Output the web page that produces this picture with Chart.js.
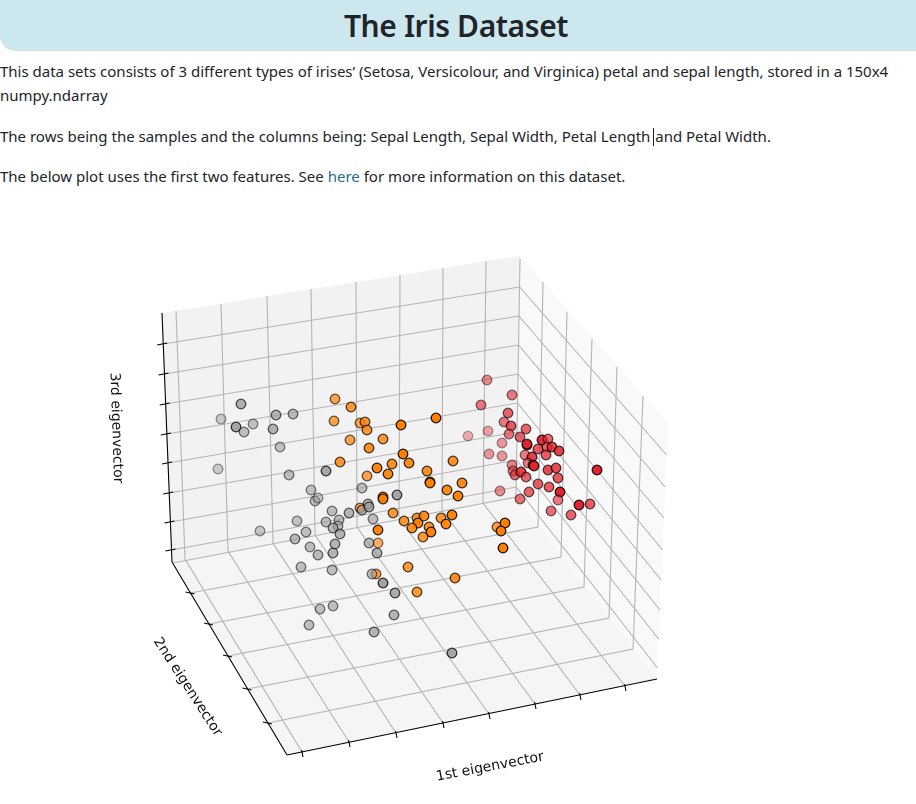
<!DOCTYPE html>
<html>
<head>
<meta charset="utf-8">
<title>The Iris Dataset</title>
<script src="https://cdn.jsdelivr.net/npm/chart.js@4/dist/chart.umd.min.js"></script>
<style>
  html, body { margin: 0; padding: 0; overflow: hidden; background: #fff; }
  body { width: 916px; height: 804px; position: relative; font-family: "Noto Sans", sans-serif; color: #212529; }
  .banner { height: 51px; padding-right: 4px; background: #cde7ee; border-bottom-left-radius: 15px; text-align: center;
    font-size: 30px; font-weight: 600; letter-spacing: -0.4px; line-height: 51px; }
  p { position: absolute; left: 0; margin: 0; font-size: 15px; line-height: 24px; white-space: nowrap; }
  a { color: #2a6a8f; text-decoration: none; }
  .caret { display: inline-block; width: 0; height: 18px; border-left: 1px solid #222; vertical-align: -4px; margin-left: -1px; margin-right: 1px; }
  #chart { position: absolute; left: 0; top: 200px; }
</style>
</head>
<body>
<div class="banner">The Iris Dataset</div>
<p style="top:59px">This data sets consists of 3 different types of irises’ (Setosa, Versicolour, and Virginica) petal and sepal length, stored in a 150x4<br>numpy.ndarray</p>
<p style="top:124px">The rows being the samples and the columns being: Sepal Length, Sepal Width, Petal Length <span class="caret"></span>and Petal Width.</p>
<p style="top:164px">The below plot uses the first two features. See <a href="#">here</a> for more information on this dataset.</p>
<canvas id="chart" width="916" height="604"></canvas>
<script>
const setosa = [
  [487,380,.5],[512,395,.6],[481,405,.6],[508,413,.7],[504,422,.6],[511,426,.75],[468,436,.35],[488,431,.4],
  [509,434,.6],[526,429,.7],[520,437,.7],[502,443,.45],[527,445,.95],[527,444,.8],[542,440,.95],[548,439,.7],
  [538,449,.75],[547,447,.7],[552,447,.85],[559,451,.85],[546,455,.75],[489,454,.45],[502,456,.45],[525,455,.6],
  [532,457,.85],[528,463,.6],[533,465,.9],[534,466,.9],[512,465,.55],[513,471,.6],[515,475,.65],[521,472,.85],
  [526,477,.7],[548,470,.8],[556,468,.8],[558,478,.75],[597,470,1],[538,484,.7],[549,487,.75],[529,492,.7],
  [500,491,.5],[520,499,.65],[560,492,1],[558,500,.6],[579,505,1],[590,504,.75],[551,511,.65],[571,515,.7]
];
const versicolor = [
  [335,399,.7],[351,407,.8],[334,421,.7],[360,423,.7],[365,422,.8],[367,430,.8],[401,425,1],[350,440,.7],
  [383,439,.8],[369,448,.85],[403,454,1],[340,462,.8],[392,464,.85],[409,463,.9],[377,468,.95],[388,474,.9],
  [367,476,.7],[383,497,.95],[383,499,.9],[360,508,.7],[393,513,.8],[417,518,.8],[404,521,.8],[418,523,.9],
  [412,528,.85],[378,530,.95],[424,516,.85],[429,527,.85],[431,532,.95],[423,537,.8],[441,518,.8],[452,515,.95],
  [446,524,.9],[378,543,.6],[408,567,.8],[455,578,.85],[376,574,.7],[417,592,.8],[436,418,1],[453,461,.85],
  [427,471,.85],[430,482,1],[430,483,.9],[462,483,.9],[447,490,.9],[458,496,.95],[497,527,.75],[505,523,1],
  [501,531,1],[503,548,1]
];
const virginica = [
  [241,404,.75],[221,419,.45],[236,427,.85],[244,432,.6],[253,424,.55],[276,415,.7],[293,414,.65],[273,429,.7],
  [280,447,.55],[218,469,.45],[289,475,.6],[326,471,.85],[311,490,.55],[315,501,.6],[318,498,.5],[362,488,.6],
  [397,495,.85],[332,511,.6],[349,513,.7],[362,510,.7],[368,504,.7],[369,507,.75],[373,519,.6],[297,521,.55],
  [326,522,.6],[339,520,.6],[338,526,.6],[333,528,.65],[340,534,.7],[260,531,.5],[306,532,.6],[295,539,.65],
  [310,547,.6],[318,555,.65],[335,544,.7],[333,553,.7],[369,543,.65],[377,553,.7],[301,567,.6],[332,570,.6],
  [372,574,.6],[383,583,.9],[395,593,.8],[394,615,.7],[320,609,.6],[333,606,.6],[309,625,.6],[374,632,.7],
  [452,653,.85]
];

// the three panes and the grid, as projected outlines
const paneLeft = [[162,313],[520,256],[516,497],[172,562]];
const paneRight = [[520,256],[668,423],[657,679],[516,497]];
const paneFloor = [[172,562],[516,497],[657,679],[287,755]];

const thirdGrid = [
  [[163.2,344],[519.5,287],[666.6,455]], [[164.5,374],[519,316],[665.2,487]],
  [[165.7,404],[518.5,345],[663.9,518]], [[166.9,434],[518,374],[662.5,550]],
  [[168,463],[517.5,403],[661.2,580]], [[169.2,493],[517,432],[660,610]],
  [[170.4,522],[516.6,460],[658.7,639]], [[171.5,550],[516.2,487],[657.5,668]]
];
const firstGrid = [
  [[176,311],[185,559],[302,752]], [[221,304],[228,551],[349,742]],
  [[267,296],[273,543],[396,733]], [[311,289],[315,535],[443,723]],
  [[356,282],[357,527],[489,714]], [[400,275],[399,518],[535,704]],
  [[443,268],[442,510],[580,695]], [[486,261],[483,503],[625,686]]
];
const secondGrid = [
  [[520,259],[516,497],[173,563]], [[543,282],[538,527],[190.5,593]],
  [[567,312],[561,557],[209,624]], [[592,339],[584,587],[228,656]],
  [[617,367],[609,618],[247.5,689]], [[643,396],[633,649],[268,723]]
];
const axisEdges = [
  [[162,313],[172,562]], [[172,562],[287,755]], [[287,755],[657,679]]
];
const axisNames = ['1st eigenvector', '2nd eigenvector', '3rd eigenvector'];

const shade = (rgb, a) => `rgba(${rgb},${a})`;

const scatterSet = (label, points, rgb, order) => ({
  label,
  data: points.map(p => ({ x: p[0], y: p[1] })),
  order,
  pointRadius: 4.8,
  pointBorderWidth: 1.3,
  pointBackgroundColor: points.map(p => shade(rgb, p[2])),
  pointBorderColor: points.map(p => shade('0,0,0', p[2] * 0.9)),
});

const lineSet = (pts, color, width, order) => ({
  data: pts.map(p => ({ x: p[0], y: p[1] })),
  showLine: true,
  pointRadius: 0,
  borderColor: color,
  borderWidth: width,
  order,
});

const paneSet = (pts, color) => ({
  data: pts.map(p => ({ x: p[0], y: p[1] })),
  showLine: true,
  fill: 'shape',
  pointRadius: 0,
  borderWidth: 0,
  backgroundColor: color,
  order: 100,
});

// tick marks hang off the grid ends where they meet the axis lines
const thirdTicks = thirdGrid.map(l => [[l[0][0] - 6, l[0][1] + 1], [l[0][0] + 4, l[0][1] - 1]]);
const secondTicks = secondGrid.slice(1).map(l => [[l[2][0] - 5, l[2][1] - 1], [l[2][0] + 4, l[2][1] + 1]]);
const firstTicks = firstGrid.map(l => [[l[2][0] - 0.4, l[2][1] - 2], [l[2][0] + 1, l[2][1] + 5]]);

const axisLabels = {
  id: 'axisLabels',
  afterDraw(chart) {
    const { ctx, scales } = chart;
    const spots = [
      { text: axisNames[0], x: 490, y: 767, angle: -10.7 },
      { text: axisNames[1], x: 187.5, y: 687, angle: 57 },
      { text: axisNames[2], x: 116, y: 428, angle: 88 },
    ];
    ctx.save();
    ctx.font = '14px "DejaVu Sans"';
    ctx.fillStyle = '#111';
    ctx.textAlign = 'center';
    ctx.textBaseline = 'middle';
    spots.forEach(s => {
      ctx.save();
      ctx.translate(scales.x.getPixelForValue(s.x), scales.y.getPixelForValue(s.y));
      ctx.rotate(s.angle * Math.PI / 180);
      ctx.fillText(s.text, 0, 0);
      ctx.restore();
    });
    ctx.restore();
  },
};

new Chart(document.getElementById('chart'), {
  type: 'scatter',
  data: {
    datasets: [
      paneSet(paneLeft, '#f2f2f2'),
      paneSet(paneRight, '#f9f9f9'),
      paneSet(paneFloor, '#f5f5f5'),
      ...thirdGrid.concat(firstGrid, secondGrid).map(l => lineSet(l, '#b4b4b4', 1.1, 90)),
      ...axisEdges.concat(thirdTicks, secondTicks, firstTicks).map(l => lineSet(l, '#000', 1.1, 80)),
      scatterSet('Virginica', virginica, '153,153,153', 1),
      scatterSet('Versicolour', versicolor, '255,127,0', 2),
      scatterSet('Setosa', setosa, '225,35,45', 3),
    ],
  },
  options: {
    responsive: false,
    animation: false,
    layout: { padding: 0, autoPadding: false },
    plugins: { legend: { display: false }, tooltip: { enabled: false } },
    scales: {
      x: { type: 'linear', min: 0, max: 916, display: false },
      y: { type: 'linear', min: 200, max: 804, reverse: true, display: false },
    },
  },
  plugins: [axisLabels],
});
</script>
</body>
</html>
